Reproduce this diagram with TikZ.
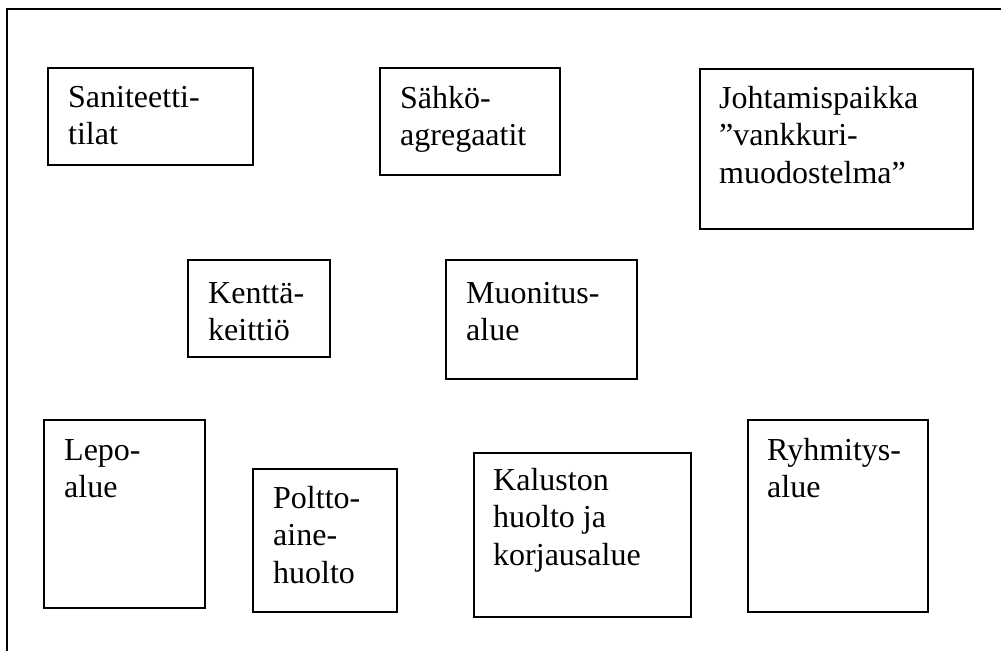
\documentclass[tikz,border=0pt]{standalone}
\usepackage{fontspec}
\setmainfont{Liberation Serif}
\newcommand\arealines[1]{\begin{tabular}[t]{@{}l@{}}#1\end{tabular}}
\begin{document}
\begin{tikzpicture}[x=1pt,y=-1pt,
  area/.style={draw, line width=1.8pt, inner sep=0pt, anchor=north west},
  areatext/.style={anchor=base west, inner sep=0pt,
    font=\fontsize{32}{37.5}\selectfont}]
\useasboundingbox (0,0) rectangle (1001,651);
% outer frame (top and left edges)
\draw[line width=1.8pt] (7,651) -- (7,9) -- (1001,9);

% top row
\node[area, minimum width=205pt, minimum height=97pt]  (san) at (47,67) {};
\node[areatext] (sant) at ([shift={(21,40)}]san.north west) {\arealines{Saniteetti-\\tilat}};
\node[area, minimum width=180pt, minimum height=107pt] (sah) at (379,67) {};
\node[areatext] (saht) at ([shift={(21,41)}]sah.north west) {\arealines{Sähkö-\\agregaatit}};
\node[area, minimum width=273pt, minimum height=160pt] (joh) at (699,68) {};
\node[areatext] (joht) at ([shift={(20,40)}]joh.north west) {\arealines{Johtamispaikka\\”vankkuri-\\muodostelma”}};

% middle row
\node[area, minimum width=142pt, minimum height=97pt]  (ken) at (187,259) {};
\node[areatext] (kent) at ([shift={(21,44)}]ken.north west) {\arealines{Kenttä-\\keittiö}};
\node[area, minimum width=191pt, minimum height=119pt] (muo) at (445,259) {};
\node[areatext] (muot) at ([shift={(21,44)}]muo.north west) {\arealines{Muonitus-\\alue}};

% bottom row
\node[area, minimum width=161pt, minimum height=188pt] (lep) at (43,419) {};
\node[areatext] (lept) at ([shift={(21,41)}]lep.north west) {\arealines{Lepo-\\alue}};
\node[area, minimum width=144pt, minimum height=143pt] (pol) at (252,468) {};
\node[areatext] (polt) at ([shift={(21,40)}]pol.north west) {\arealines{Poltto-\\aine-\\huolto}};
\node[area, minimum width=217pt, minimum height=164pt] (kal) at (473,452) {};
\node[areatext] (kalt) at ([shift={(20,38)}]kal.north west) {\arealines{Kaluston\\huolto ja\\korjausalue}};
\node[area, minimum width=180pt, minimum height=192pt] (ryh) at (747,419) {};
\node[areatext] (ryht) at ([shift={(20,41)}]ryh.north west) {\arealines{Ryhmitys-\\alue}};
\end{tikzpicture}
\end{document}
